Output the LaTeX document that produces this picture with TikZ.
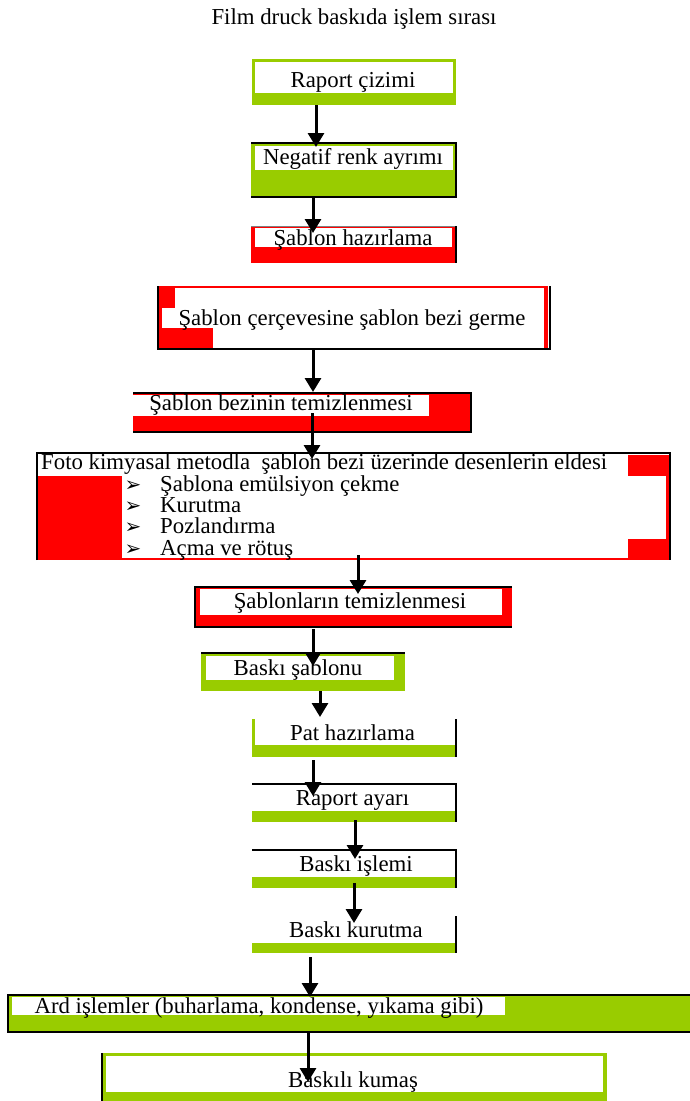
\documentclass[tikz,border=0pt]{standalone}
\usepackage{fontspec}
\setmainfont{Liberation Serif}
\newfontfamily\dejavu{DejaVu Sans}
\usetikzlibrary{arrows.meta}
\definecolor{grn}{RGB}{153,204,0}
\definecolor{rd}{RGB}{255,0,0}
\begin{document}
\begin{tikzpicture}[x=1pt,y=-1pt,
  lbl/.style={font=\fontsize{22.8}{22.8}\selectfont, inner sep=0pt, anchor=base},
  lblw/.style={font=\fontsize{22.8}{22.8}\selectfont, inner sep=0pt, anchor=base west},
  bul/.style={font=\dejavu\fontsize{20}{20}\selectfont, inner sep=0pt, anchor=base},
  blk/.style={draw=black, line width=1.4pt},
  arr/.style={line width=3pt, -{Triangle[width=16pt,length=14pt]}}]
\useasboundingbox (0,0) rectangle (690,1101);
\fill[white] (0,0) rectangle (690,1101);

% title
\node[lbl] (title) at (354,24) {Film druck baskıda işlem sırası};

% box 1
\fill[grn] (252,59) rectangle (456,105);
\fill[white] (255,62) rectangle (453,93);
\node[lbl] (b1) at (353,87) {Raport çizimi};

% box 2
\fill[grn] (251,143) rectangle (456,197);
\fill[white] (255,145.5) rectangle (453,169.5);
\draw[blk] (251,143) -- (456,143) -- (456,197) -- (251,197);
\node[lbl] (b2) at (353,164) {Negatif renk ayrımı};

% box 3
\fill[rd] (251,226) rectangle (456,263);
\fill[white] (255,228) rectangle (452,247);
\draw[gray, line width=0.6pt] (251,226) -- (456,226);
\draw[blk] (456,226) -- (456,263);
\node[lbl] (b3) at (353,245) {Şablon hazırlama};

% box 4
\fill[white] (158,286) rectangle (550,349);
\fill[rd] (158,286) rectangle (175,308);
\fill[rd] (158,308) rectangle (162,328);
\fill[rd] (158,328) rectangle (213,348);
\fill[rd] (158,286) rectangle (548,288);
\fill[rd] (544,287) rectangle (548,348);
\draw[blk] (158,286) -- (158,349) -- (550,349) -- (550,286);
\node[lbl] (b4) at (352,325) {Şablon çerçevesine şablon bezi germe};

% box 5
\fill[rd] (133,393) rectangle (471,432);
\fill[white] (133,395) rectangle (429,416);
\draw[blk] (133,393) -- (471,393) -- (471,432) -- (133,432);
\node[lbl] (b5) at (281,410) {Şablon bezinin temizlenmesi};

% box 6
\fill[white] (37,453) rectangle (670,560);
\fill[rd] (628,455) rectangle (670,476);
\fill[rd] (37,476) rectangle (122,559);
\fill[rd] (666,476) rectangle (670,539);
\fill[rd] (628,539) rectangle (670,560);
\fill[rd] (37,558) rectangle (670,560);
\draw[blk] (37,560) -- (37,453) -- (670,453) -- (670,560);
\node[lblw] (b6) at (41,469) {Foto kimyasal metodla\ \ şablon bezi üzerinde desenlerin eldesi};
\node[bul] (k1) at (133,491) {➢};
\node[bul] (k2) at (133,512) {➢};
\node[bul] (k3) at (133,533) {➢};
\node[bul] (k4) at (133,555) {➢};
\node[lblw] (s1) at (160,491) {Şablona emülsiyon çekme};
\node[lblw] (s2) at (160,512) {Kurutma};
\node[lblw] (s3) at (160,533) {Pozlandırma};
\node[lblw] (s4) at (160,555) {Açma ve rötuş};

% box 7
\fill[rd] (195,587) rectangle (512,627);
\fill[white] (200,588.5) rectangle (502,615);
\draw[blk] (512,587) -- (195,587) -- (195,627) -- (512,627);
\node[lbl] (b7) at (350,608) {Şablonların temizlenmesi};

% box 8
\fill[grn] (201,653) rectangle (405,691);
\fill[white] (206,655.5) rectangle (394,680);
\draw[blk] (201,653) -- (405,653);
\node[lbl] (b8) at (298,675) {Baskı şablonu};

% box 9
\fill[grn] (252,719) rectangle (255,757);
\fill[grn] (252,745) rectangle (456,757);
\draw[blk] (456,719) -- (456,757);
\node[lbl] (b9) at (352.5,740) {Pat hazırlama};

% box 10
\fill[grn] (252,811) rectangle (456,822);
\draw[blk] (252,784) -- (456,784) -- (456,822);
\node[lbl] (b10) at (352.5,805) {Raport ayarı};

% box 11
\fill[grn] (252,877) rectangle (456,888);
\draw[blk] (252,850) -- (456,850) -- (456,888);
\node[lbl] (b11) at (356,871) {Baskı işlemi};

% box 12
\fill[grn] (252,943) rectangle (456,953);
\draw[blk] (456,916) -- (456,953);
\node[lbl] (b12) at (356,937) {Baskı kurutma};

% box 13
\fill[grn] (8,995) rectangle (690,1032);
\fill[white] (12,997) rectangle (505,1015);
\draw[blk] (690,995) -- (8,995) -- (8,1032) -- (690,1032);
\node[lbl] (b13) at (259,1013) {Ard işlemler (buharlama, kondense, yıkama gibi)};

% box 14
\fill[grn] (102,1053) rectangle (607,1101);
\fill[white] (106,1056) rectangle (603,1092);
\draw[blk] (102,1053) -- (102,1101);
\node[lbl] (b14) at (353,1087) {Baskılı kumaş};

% arrow end points
\coordinate (a1s) at (316,105);  \coordinate (a1e) at (316,147);
\coordinate (a2s) at (313,198);  \coordinate (a2e) at (313,233);
\coordinate (a4s) at (313,349);  \coordinate (a4e) at (313,392);
\coordinate (a5s) at (312,413);  \coordinate (a5e) at (312,459);
\coordinate (a6s) at (358,555);  \coordinate (a6e) at (358,594);
\coordinate (a7s) at (313,629);  \coordinate (a7e) at (313,666);
\coordinate (a8s) at (320,691);  \coordinate (a8e) at (320,717);
\coordinate (a9s) at (313,760);  \coordinate (a9e) at (313,796);
\coordinate (a10s) at (355,820); \coordinate (a10e) at (355,859);
\coordinate (a11s) at (354,883); \coordinate (a11e) at (354,923);
\coordinate (a12s) at (310,957); \coordinate (a12e) at (310,997);
\coordinate (a13s) at (308,1032); \coordinate (a13e) at (308,1082);

\draw[arr] (a1s) -- (a1e);
\draw[arr] (a2s) -- (a2e);
\draw[arr] (a4s) -- (a4e);
\draw[arr] (a5s) -- (a5e);
\draw[arr] (a6s) -- (a6e);
\draw[arr] (a7s) -- (a7e);
\draw[arr] (a8s) -- (a8e);
\draw[arr] (a9s) -- (a9e);
\draw[arr] (a10s) -- (a10e);
\draw[arr] (a11s) -- (a11e);
\draw[arr] (a12s) -- (a12e);
\draw[arr] (a13s) -- (a13e);
\end{tikzpicture}
\end{document}
